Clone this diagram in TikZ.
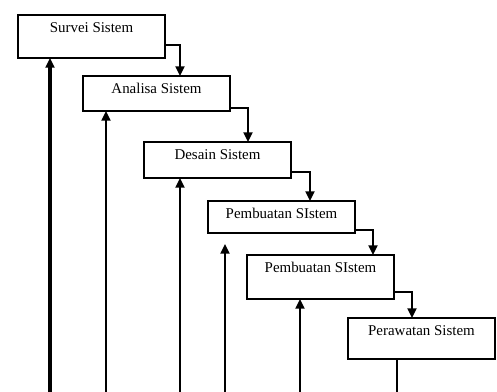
\documentclass[tikz,border=0pt]{standalone}
\usepackage{fontspec}
\setmainfont{Liberation Serif}
\usetikzlibrary{arrows.meta}

\tikzset{
	tahap/.style={draw, line width=0.7pt, anchor=north west, inner sep=0pt, outer sep=0pt,
		minimum width=2.94cm, text height=0.36cm, font=\fontsize{8.5}{10}\selectfont},
	alur/.style={line width=1.4pt, -{Triangle[length=5.5pt,width=5pt]}},
	balik/.style={line width=1.3pt, -{Triangle[length=5.5pt,width=5pt]}}
}

\begin{document}
\begin{tikzpicture}[x=0.02cm, y=-0.02cm]
\useasboundingbox (0,0) rectangle (497,392);
% tahapan
\node[tahap, text depth=0.50cm] (s1) at (18,15)   {Survei Sistem};
\node[tahap, text depth=0.34cm] (s2) at (83,76)   {Analisa Sistem};
\node[tahap, text depth=0.36cm] (s3) at (144,142) {Desain Sistem};
\node[tahap, text depth=0.28cm] (s4) at (208,201) {Pembuatan SIstem};
\node[tahap, text depth=0.52cm] (s5) at (247,255) {Pembuatan SIstem};
\node[tahap, text depth=0.46cm] (s6) at (348,318) {Perawatan Sistem};
% titik belok
\coordinate (k1) at (180,45);
\coordinate (k2) at (248,108);
\coordinate (k3) at (310,172);
\coordinate (k4) at (373,230);
\coordinate (k5) at (412,292);
\draw[alur] (s1.north east) |- (k1) -- (k1 |- s2.north);
\draw[alur] (s2.north east) |- (k2) -- (k2 |- s3.north);
\draw[alur] (s3.north east) |- (k3) -- (k3 |- s4.north);
\draw[alur] (s4.north east) |- (k4) -- (k4 |- s5.north);
\draw[alur] (s5.north east) |- (k5) -- (k5 |- s6.north);
% umpan balik
\coordinate (b1) at (50,392);
\coordinate (b2) at (106,392);
\coordinate (b3) at (180,392);
\coordinate (b4) at (225,392);
\coordinate (t4) at (225,244);
\coordinate (b5) at (300,392);
\coordinate (b6) at (397,392);
\draw[balik, line width=1.9pt] (b1) -- (b1 |- s1.south);
\draw[balik] (b2) -- (b2 |- s2.south);
\draw[balik] (b3) -- (b3 |- s3.south);
\draw[balik] (b4) -- (t4);
\draw[balik] (b5) -- (b5 |- s5.south);
\draw[line width=0.7pt] (b6 |- s6.south) -- (b6);
\end{tikzpicture}
\end{document}
